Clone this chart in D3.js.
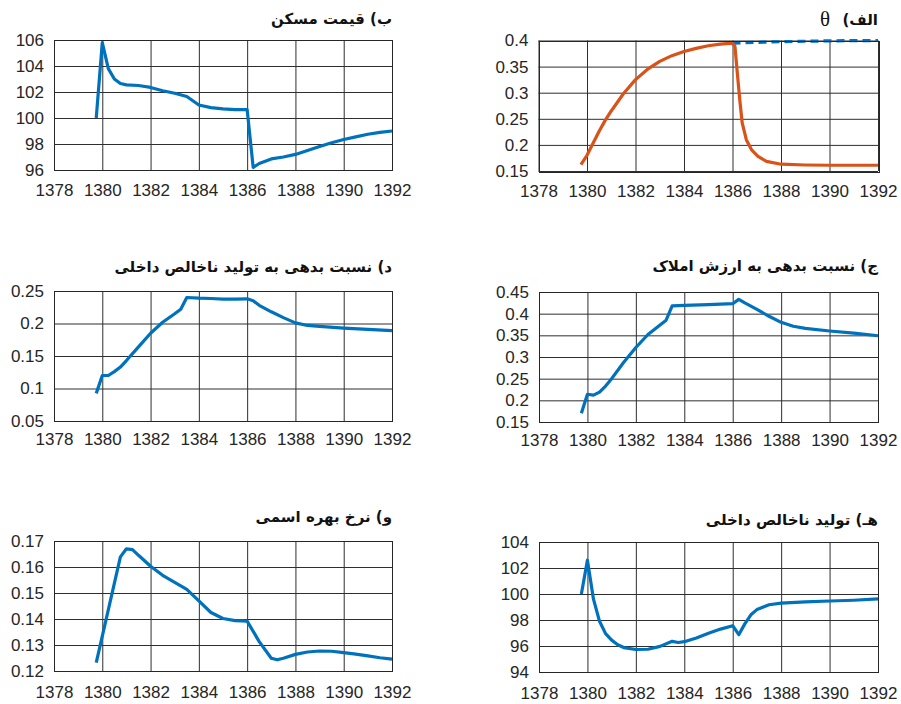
<!DOCTYPE html>
<html>
<head>
<meta charset="utf-8">
<script src="https://cdn.jsdelivr.net/npm/d3@7"></script>
<style>
  body { margin: 0; background: #fff; }
  svg { display: block; }
</style>
</head>
<body>
<svg id="chart" width="901" height="704"></svg>
<script>
// ---- shared x axis (Solar Hijri years) ----
const xTicks = [1378, 1380, 1382, 1384, 1386, 1388, 1390, 1392];
const xTickLabels = ["1378", "1380", "1382", "1384", "1386", "1388", "1390", "1392"];

// ---- (الف) theta ----
const thetaYears = [1379.75, 1380, 1380.25, 1380.5, 1380.75, 1381, 1381.5, 1382, 1382.5, 1383, 1383.5, 1384, 1384.5, 1385, 1385.5, 1386,
  1386.1, 1386.2, 1386.3, 1386.4, 1386.57, 1386.78, 1387.05, 1387.4, 1388, 1389, 1390, 1391, 1392];
const thetaValues = [0.162, 0.18, 0.203, 0.226, 0.247, 0.265, 0.298, 0.325, 0.345, 0.36, 0.371, 0.379, 0.385, 0.39, 0.393, 0.395,
  0.389, 0.337, 0.286, 0.242, 0.21, 0.191, 0.178, 0.1685, 0.163, 0.1615, 0.161, 0.161, 0.161];
const thetaBaseYears = [1386, 1387, 1388, 1389, 1390, 1391, 1392];
const thetaBaseValues = [0.395, 0.3965, 0.3977, 0.3986, 0.3993, 0.3998, 0.4];
const thetaTicks = [0.15, 0.2, 0.25, 0.3, 0.35, 0.4];
const thetaTickLabels = ["0.15", "0.2", "0.25", "0.3", "0.35", "0.4"];

// ---- (ب) house price ----
const priceYears = [1379.75, 1380, 1380.25, 1380.5, 1380.75, 1381, 1381.5, 1382, 1382.5, 1383, 1383.5, 1384, 1384.5, 1385, 1385.5, 1386,
  1386.25, 1386.5, 1387, 1387.5, 1388, 1388.5, 1389, 1389.5, 1390, 1390.5, 1391, 1391.5, 1392];
const priceValues = [100, 105.8, 103.8, 103.0, 102.65, 102.55, 102.5, 102.35, 102.1, 101.9, 101.65, 101.0, 100.8, 100.7, 100.65, 100.65,
  96.2, 96.5, 96.85, 97.0, 97.2, 97.5, 97.8, 98.1, 98.35, 98.55, 98.75, 98.9, 99.0];
const priceTicks = [96, 98, 100, 102, 104, 106];
const priceTickLabels = ["96", "98", "100", "102", "104", "106"];

// ---- (ج) debt to property value ----
const debtPropYears = [1379.75, 1380, 1380.25, 1380.5, 1380.75, 1381, 1381.5, 1382, 1382.5, 1383, 1383.25, 1383.5, 1384, 1385, 1386,
  1386.25, 1386.5, 1387, 1387.5, 1388, 1388.5, 1389, 1390, 1391, 1392];
const debtPropValues = [0.17, 0.214, 0.212, 0.219, 0.233, 0.25, 0.288, 0.322, 0.352, 0.374, 0.385, 0.418, 0.419, 0.421, 0.423,
  0.433, 0.425, 0.41, 0.394, 0.38, 0.371, 0.366, 0.36, 0.355, 0.349];
const debtPropTicks = [0.15, 0.2, 0.25, 0.3, 0.35, 0.4, 0.45];
const debtPropTickLabels = ["0.15", "0.2", "0.25", "0.3", "0.35", "0.4", "0.45"];

// ---- (د) debt to GDP ----
const debtGdpYears = [1379.75, 1380, 1380.25, 1380.5, 1380.75, 1381, 1381.5, 1382, 1382.5, 1383, 1383.25, 1383.5, 1384, 1384.5, 1385, 1385.5, 1386,
  1386.25, 1386.5, 1387, 1387.5, 1388, 1388.5, 1389, 1390, 1391, 1392];
const debtGdpValues = [0.0925, 0.12, 0.12, 0.126, 0.133, 0.143, 0.164, 0.185, 0.202, 0.215, 0.222, 0.240, 0.239, 0.2385, 0.2375, 0.2375, 0.238,
  0.235, 0.228, 0.218, 0.209, 0.201, 0.197, 0.1955, 0.193, 0.191, 0.189];
const debtGdpTicks = [0.05, 0.1, 0.15, 0.2, 0.25];
const debtGdpTickLabels = ["0.05", "0.1", "0.15", "0.2", "0.25"];

// ---- (هـ) GDP ----
const gdpYears = [1379.75, 1380, 1380.25, 1380.5, 1380.75, 1381, 1381.25, 1381.5, 1382, 1382.5, 1383, 1383.5, 1383.75, 1384, 1384.5, 1385, 1385.5, 1386,
  1386.25, 1386.5, 1386.75, 1387, 1387.5, 1388, 1389, 1390, 1391, 1392];
const gdpValues = [100, 102.6, 99.6, 97.9, 96.95, 96.45, 96.1, 95.88, 95.73, 95.75, 95.97, 96.36, 96.27, 96.33, 96.62, 96.98, 97.3, 97.56,
  96.87, 97.7, 98.4, 98.8, 99.17, 99.3, 99.4, 99.46, 99.52, 99.62];
const gdpTicks = [94, 96, 98, 100, 102, 104];
const gdpTickLabels = ["94", "96", "98", "100", "102", "104"];

// ---- (و) nominal interest rate ----
const rateYears = [1379.75, 1380.75, 1381, 1381.25, 1381.5, 1382, 1382.5, 1383, 1383.5, 1384, 1384.5, 1385, 1385.5, 1386,
  1386.5, 1387, 1387.25, 1387.5, 1388, 1388.5, 1389, 1389.5, 1390, 1390.5, 1391, 1391.5, 1392];
const rateValues = [0.1232, 0.1639, 0.167, 0.1667, 0.1645, 0.1603, 0.1568, 0.1541, 0.1514, 0.147, 0.1425, 0.1402, 0.1394, 0.1392,
  0.1313, 0.1249, 0.1243, 0.1249, 0.1264, 0.1273, 0.1277, 0.1276, 0.1271, 0.1265, 0.1258, 0.1251, 0.1246];
const rateTicks = [0.12, 0.13, 0.14, 0.15, 0.16, 0.17];
const rateTickLabels = ["0.12", "0.13", "0.14", "0.15", "0.16", "0.17"];

// ---- panel titles (Persian) ----
const titles = {
  theta: "الف)",
  price: "ب) قیمت مسکن",
  debtProp: "ج) نسبت بدهی به ارزش املاک",
  debtGdp: "د) نسبت بدهی به تولید ناخالص داخلی",
  gdp: "هـ) تولید ناخالص داخلی",
  rate: "و) نرخ بهره اسمی"
};

const BLUE = "#0072BD";
const ORANGE = "#D95319";
const INK = "#262626";
const GRID = "#2e2e2e";

const svg = d3.select("#chart");

const panels = [
  { title: titles.price, left: 54, right: 392, top: 40, bottom: 170, xPad: 14, titleY: 24,
    yTicks: priceTicks, yLabels: priceTickLabels,
    series: [{ xs: priceYears, ys: priceValues, color: BLUE }] },
  { title: titles.theta, theta: true, left: 538.5, right: 878, top: 40.5, bottom: 171, xPad: 14, titleY: 25,
    yTicks: thetaTicks, yLabels: thetaTickLabels,
    series: [{ xs: thetaBaseYears, ys: thetaBaseValues, color: BLUE, dash: "8,5" },
             { xs: thetaYears, ys: thetaValues, color: ORANGE }] },
  { title: titles.debtGdp, left: 54, right: 392, top: 291, bottom: 421, xPad: 12, titleY: 272,
    yTicks: debtGdpTicks, yLabels: debtGdpTickLabels,
    series: [{ xs: debtGdpYears, ys: debtGdpValues, color: BLUE }] },
  { title: titles.debtProp, left: 539, right: 878, top: 292, bottom: 422, xPad: 12, titleY: 271,
    yTicks: debtPropTicks, yLabels: debtPropTickLabels,
    series: [{ xs: debtPropYears, ys: debtPropValues, color: BLUE }] },
  { title: titles.rate, left: 54, right: 392, top: 541, bottom: 671, xPad: 15, titleY: 522,
    yTicks: rateTicks, yLabels: rateTickLabels,
    series: [{ xs: rateYears, ys: rateValues, color: BLUE }] },
  { title: titles.gdp, left: 539, right: 878, top: 542, bottom: 672, xPad: 15, titleY: 525,
    yTicks: gdpTicks, yLabels: gdpTickLabels,
    series: [{ xs: gdpYears, ys: gdpValues, color: BLUE }] }
];

function drawPanel(p) {
  const g = svg.append("g");
  const x = d3.scaleLinear().domain([xTicks[0], xTicks[xTicks.length - 1]]).range([p.left, p.right]);
  const y = d3.scaleLinear().domain([p.yTicks[0], p.yTicks[p.yTicks.length - 1]]).range([p.bottom, p.top]);
  const h = p.bottom - p.top, w = p.right - p.left;

  // grid lines
  g.append("g")
    .attr("transform", `translate(0,${p.bottom})`)
    .call(d3.axisBottom(x).tickValues(xTicks).tickSize(-h).tickFormat(""))
    .call(s => { s.select(".domain").remove(); s.selectAll("line").attr("stroke", GRID).attr("stroke-width", 1); });
  g.append("g")
    .attr("transform", `translate(${p.left},0)`)
    .call(d3.axisLeft(y).tickValues(p.yTicks).tickSize(-w).tickFormat(""))
    .call(s => { s.select(".domain").remove(); s.selectAll("line").attr("stroke", GRID).attr("stroke-width", 1); });

  // tick labels
  const xl = g.append("g")
    .attr("transform", `translate(0,${p.bottom})`)
    .call(d3.axisBottom(x).tickValues(xTicks).tickSize(0).tickPadding(p.xPad)
      .tickFormat((d, i) => xTickLabels[i]));
  const yl = g.append("g")
    .attr("transform", `translate(${p.left},0)`)
    .call(d3.axisLeft(y).tickValues(p.yTicks).tickSize(0).tickPadding(10)
      .tickFormat((d, i) => p.yLabels[i]));
  [xl, yl].forEach(a => {
    a.select(".domain").remove();
    a.selectAll("text")
      .attr("fill", INK)
      .style("font-family", "'Liberation Sans', Arial, sans-serif")
      .style("font-size", "17px");
  });

  // data lines
  p.series.forEach(s => {
    const line = d3.line().x(d => x(d[0])).y(d => y(d[1]));
    g.append("path")
      .datum(d3.zip(s.xs, s.ys))
      .attr("d", line)
      .attr("fill", "none")
      .attr("stroke", s.color)
      .attr("stroke-width", 3.2)
      .attr("stroke-linejoin", "round")
      .attr("stroke-dasharray", s.dash || null);
  });

  // axes box
  g.append("rect")
    .attr("x", Math.round(p.left) + 0.5).attr("y", Math.round(p.top) + 0.5)
    .attr("width", Math.round(w)).attr("height", Math.round(h))
    .attr("fill", "none").attr("stroke", INK).attr("stroke-width", 1);

  // title, right-to-left, its start aligned with the right edge of the plot box
  g.append("text")
    .attr("x", p.right)
    .attr("y", p.titleY)
    .attr("direction", "rtl")
    .attr("text-anchor", "start")
    .attr("fill", "#111")
    .style("font-family", "'DejaVu Sans', sans-serif")
    .style("font-weight", "bold")
    .style("font-size", "15px")
    .text(p.title);

  if (p.theta) {
    g.append("text")
      .attr("x", p.right - 53)
      .attr("y", p.titleY + 1)
      .attr("text-anchor", "middle")
      .attr("fill", "#111")
      .style("font-family", "'Liberation Serif', 'DejaVu Serif', serif")
      .style("font-size", "21px")
      .text("θ");
  }
}

panels.forEach(drawPanel);
</script>
</body>
</html>
